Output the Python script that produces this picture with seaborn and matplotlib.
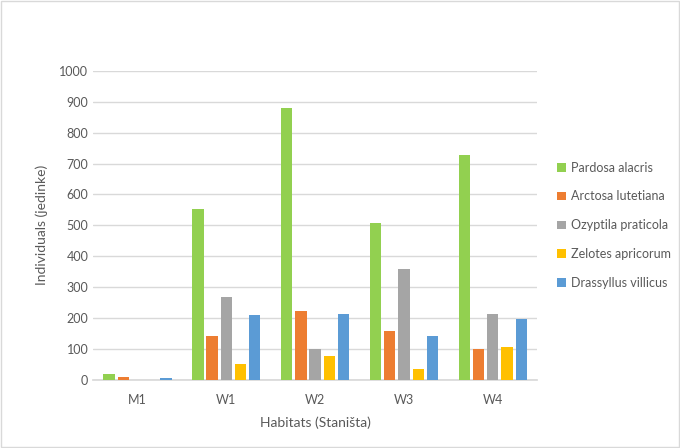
import pandas as pd
import matplotlib.pyplot as plt
import seaborn as sns
from matplotlib.patches import Rectangle

# data
habitats = ['M1', 'W1', 'W2', 'W3', 'W4']
species = ['Pardosa alacris', 'Arctosa lutetiana', 'Ozyptila praticola',
           'Zelotes apricorum', 'Drassyllus villicus']
pardosa = [20, 553, 880, 508, 728]
arctosa = [8, 142, 223, 159, 100]
ozyptila = [0, 269, 100, 360, 214]
zelotes = [0, 52, 78, 36, 106]
drassyllus = [5, 210, 213, 142, 198]

colors = ['#92D050', '#ED7D31', '#A5A5A5', '#FFC000', '#5B9BD5']

rows = []
for sp, vals in zip(species, [pardosa, arctosa, ozyptila, zelotes, drassyllus]):
    for h, v in zip(habitats, vals):
        rows.append({'Habitat': h, 'Species': sp, 'Count': v})
df = pd.DataFrame(rows)

sns.set_theme(style="white")
plt.rcParams['font.family'] = ['Lato', 'DejaVu Sans']

fig = plt.figure(figsize=(6.8, 4.48), dpi=100)
ax = fig.add_axes([0.137, 0.152, 0.653, 0.690])

sns.barplot(
    data=df, x='Habitat', y='Count', hue='Species',
    hue_order=species, order=habitats, palette=colors,
    width=0.8, gap=0.2, saturation=1, linewidth=0, ax=ax, zorder=3
)

ax.set_ylim(0, 1000)
ax.set_yticks(range(0, 1001, 100))
ax.set_xlim(-0.5, 4.5)
ax.yaxis.grid(True, color='#D9D9D9', linewidth=1, zorder=0)
ax.set_axisbelow(True)
for s in ['top', 'right', 'left']:
    ax.spines[s].set_visible(False)
ax.spines['bottom'].set_color('#D9D9D9')
ax.tick_params(axis='both', length=0, colors='#595959', labelsize=9)
ax.tick_params(axis='x', pad=10)

ax.set_xlabel('Habitats (Staništa)', fontsize=10, color='#595959', labelpad=8)
ax.set_ylabel('Individuals (jedinke)', fontsize=10, color='#595959', labelpad=8)

ax.legend(
    loc='center left', bbox_to_anchor=(1.02, 0.5), frameon=False,
    fontsize=9, labelcolor='#595959', handlelength=0.7, handleheight=0.7,
    handletextpad=0.4, labelspacing=1.35
)

fig.patches.append(Rectangle((0.001, 0.002), 0.997, 0.996, transform=fig.transFigure,
                             fill=False, edgecolor='#D9D9D9', linewidth=1))

plt.savefig('out.png', dpi=100)
plt.close()
